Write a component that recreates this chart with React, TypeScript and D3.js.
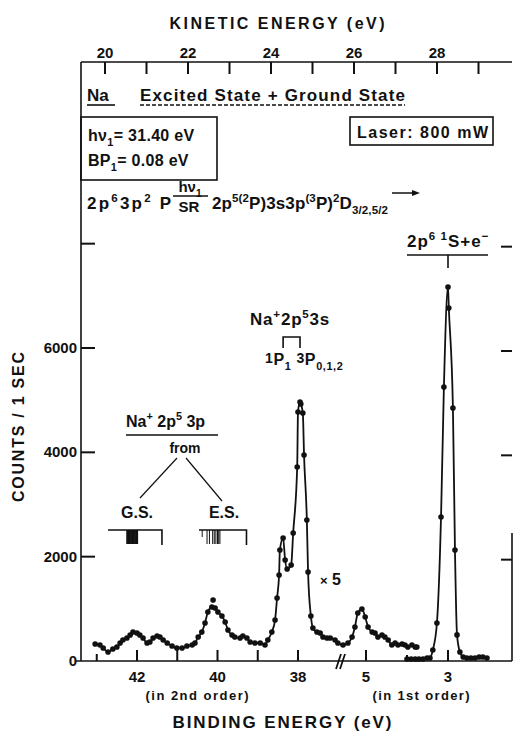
import React from 'react';
import * as d3 from 'd3';

const W = 514;
const H = 731;
const FONT = '"Liberation Sans", Arial, Helvetica, sans-serif';

// Spectrum recorded in 2nd order: binding energy (eV) and counts / 1 sec
const secondOrderEnergy = [
  43.04, 42.92, 42.84, 42.72, 42.6, 42.5, 42.42, 42.35, 42.25, 42.17, 42.1, 42.0,
  41.93, 41.85, 41.75, 41.68, 41.6, 41.5, 41.43, 41.35, 41.25, 41.13, 41.01, 40.88,
  40.76, 40.63, 40.56, 40.48, 40.39, 40.31, 40.24, 40.14, 40.06, 39.99, 39.89, 39.81,
  39.74, 39.64, 39.57, 39.44, 39.37, 39.27, 39.19, 39.07, 38.94, 38.82, 38.75, 38.65,
  38.57, 38.52, 38.47, 38.45, 38.37, 38.32, 38.27, 38.17, 38.12, 38.02, 38.0, 37.95,
  37.93, 37.88, 37.85, 37.78, 37.75, 37.68, 37.63, 37.53, 37.45, 37.38, 37.28, 37.2,
  37.08, 37.01,
];
const secondOrderCounts = [
  326, 307, 249, 173, 230, 268, 345, 403, 441, 498, 556, 537,
  498, 441, 345, 364, 441, 479, 460, 403, 345, 288, 249, 249,
  288, 307, 345, 460, 556, 728, 939, 1035, 1016, 939, 863, 748,
  594, 498, 460, 441, 479, 441, 364, 345, 345, 307, 403, 556,
  786, 1208, 1648, 2128, 2358, 1936, 1764, 1840, 2454, 3719, 4773, 4965,
  4926, 4754, 3949, 2703, 1706, 863, 633, 556, 537, 460, 441, 441,
  403, 345,
];

// 1st order, shown ×5
const firstOrderX5Energy = [
  5.56, 5.44, 5.34, 5.27, 5.2, 5.1, 5.02, 4.95, 4.85, 4.78, 4.71, 4.61,
  4.54, 4.46, 4.37, 4.29, 4.22, 4.12, 4.05, 3.98, 3.88, 3.8, 3.76,
];
const firstOrderX5Counts = [
  307, 345, 460, 652, 920, 997, 843, 652, 556, 537, 460, 498,
  460, 403, 307, 345, 307, 326, 307, 268, 307, 268, 268,
];

// 1st order, direct
const firstOrderEnergy = [
  4.0, 3.9, 3.8, 3.71, 3.61, 3.51, 3.44, 3.37, 3.27, 3.17, 3.1, 3.0,
  2.98, 2.88, 2.83, 2.78, 2.71, 2.63, 2.54, 2.44, 2.34, 2.24, 2.15, 2.05,
];
const firstOrderCounts = [
  38, 38, 38, 38, 38, 58, 58, 211, 728, 2760, 5252, 7169,
  6766, 4850, 2128, 500, 173, 77, 58, 58, 58, 77, 77, 58,
];

// Single reading lying off the 40 eV hump
const strayEnergy = [40.11];
const strayCounts = [1169];

const countLabels = [0, 2000, 4000, 6000];
const countTicks = [2000, 4000, 6000, 8000];
const kineticTicks = [20, 21, 22, 23, 24, 25, 26, 27, 28, 29];
const kineticLabels = [20, 22, 24, 26, 28];
const secondOrderTicks = [43, 42, 41, 40, 39, 38];
const secondOrderLabels = [42, 40, 38];
const firstOrderTicks = [5, 4, 3];
const firstOrderLabels = [5, 3];

// Na+ 2p5 3p final-state positions (2nd order binding energy)
const groundStateLevels = [
  42.25, 42.23, 42.21, 42.19, 42.17, 42.15, 42.13, 42.11, 42.09, 42.07, 42.05, 42.03, 42.01, 41.99,
];
const excitedStateLevels = [40.38, 40.26, 40.2, 40.12, 40.08, 40.04, 40.0, 39.97, 39.94];

const frame = { left: 81, right: 512, top: 62, bottom: 661 };

const y = d3.scaleLinear().domain([0, 6000]).range([661, 348]);
const xSecond = d3.scaleLinear().domain([42, 38]).range([137, 298]);
const xFirst = d3.scaleLinear().domain([5, 3]).range([366, 448]);
const xKinetic = d3.scaleLinear().domain([20, 28]).range([105, 437]);

type Part = [string, number?, number?];

// Runs of text with superscripts (1) and subscripts (-1)
function Rich({ parts, size }: { parts: Part[]; size: number }) {
  let prev = 0;
  return (
    <>
      {parts.map(([t, lvl = 0, scale], i) => {
        const off = lvl === 1 ? -size * 0.42 : lvl === -1 ? size * 0.3 : lvl === 0.5 ? -size * 0.15 : 0;
        const dy = off - prev;
        prev = off;
        const fs = scale ? size * scale : lvl ? size * 0.68 : size;
        return (
          <tspan key={i} dy={dy} fontSize={fs}>
            {t}
          </tspan>
        );
      })}
    </>
  );
}

export default function App() {
  const mainPts: [number, number][] = [
    ...secondOrderEnergy.map((e, i) => [xSecond(e), y(secondOrderCounts[i])] as [number, number]),
    ...firstOrderX5Energy.map((e, i) => [xFirst(e), y(firstOrderX5Counts[i])] as [number, number]),
  ];
  const peakPts: [number, number][] = firstOrderEnergy.map(
    (e, i) => [xFirst(e), y(firstOrderCounts[i])] as [number, number]
  );
  const strayPts: [number, number][] = strayEnergy.map(
    (e, i) => [xSecond(e), y(strayCounts[i])] as [number, number]
  );
  const line = d3.line().curve(d3.curveMonotoneX);

  const levelY = 530;
  const gsStart = xSecond(42.72);
  const gsEnd = xSecond(41.38);
  const esStart = xSecond(40.46);
  const esEnd = xSecond(39.28);

  const txt = { fontFamily: FONT, fontWeight: 700, fill: '#111' } as const;

  return (
    <svg
      width={W}
      height={H}
      viewBox={`0 0 ${W} ${H}`}
      style={{ position: 'absolute', left: 0, top: 0, background: '#fff' }}
    >
      <rect width={W} height={H} fill="#fff" />
      <g stroke="#111" strokeWidth={1.6} fill="none">
        {/* frame */}
        <line x1={frame.left} x2={frame.right} y1={frame.top} y2={frame.top} />
        <line x1={frame.left} x2={frame.left} y1={frame.top} y2={frame.bottom} />
        <line x1={frame.left - 6} x2={frame.right} y1={frame.bottom} y2={frame.bottom} />
        <line x1={frame.right} x2={frame.right} y1={533} y2={frame.bottom} />
        {/* kinetic energy ticks */}
        {kineticTicks.map((k) => (
          <line key={k} x1={xKinetic(k)} x2={xKinetic(k)} y1={frame.top} y2={frame.top + 12} strokeWidth={2} />
        ))}
        {/* count ticks */}
        {countTicks.map((c) => (
          <line key={'l' + c} x1={frame.left} x2={frame.left + 14} y1={y(c)} y2={y(c)} strokeWidth={2} />
        ))}
        {countTicks.map((c) => (
          <line key={'r' + c} x1={frame.right - 11} x2={frame.right} y1={y(c) + 3} y2={y(c) + 3} strokeWidth={2} />
        ))}
        {/* binding energy ticks */}
        {secondOrderTicks.map((b) => (
          <line key={'s' + b} x1={xSecond(b)} x2={xSecond(b)} y1={frame.bottom} y2={frame.bottom - (b === 43 ? 7 : 11)} strokeWidth={2} />
        ))}
        {firstOrderTicks.map((b) => (
          <line key={'f' + b} x1={xFirst(b)} x2={xFirst(b)} y1={frame.bottom} y2={frame.bottom - (b === 4 ? 6 : 11)} strokeWidth={2} />
        ))}
        {/* axis break */}
        <line x1={336} y1={669} x2={341} y2={654} strokeWidth={1.8} />
        <line x1={340} y1={669} x2={345} y2={654} strokeWidth={1.8} />
        {/* boxes */}
        <rect x={frame.left} y={117} width={217 - frame.left} height={63} />
        <rect x={350} y={117} width={143} height={28} />
      </g>

      {/* spectrum */}
      <g fill="none" stroke="#111" strokeWidth={1.8}>
        <path d={line(mainPts) ?? ''} />
        <path d={line(peakPts) ?? ''} />
      </g>
      <g fill="#111">
        {[...mainPts, ...peakPts, ...strayPts].map(([px, py], i) => (
          <circle key={i} cx={px} cy={py} r={2.8} />
        ))}
      </g>

      {/* axis titles and tick labels */}
      <text {...txt} x={277} y={29} fontSize={16} textAnchor="middle" textLength={215} lengthAdjust="spacing">
        KINETIC ENERGY (eV)
      </text>
      {kineticLabels.map((k) => (
        <text key={k} {...txt} x={xKinetic(k)} y={58} fontSize={15} textAnchor="middle">
          {k}
        </text>
      ))}
      {countLabels.map((c) => (
        <text key={c} {...txt} x={77} y={y(c) + 5} fontSize={15} textAnchor="end">
          {c}
        </text>
      ))}
      <text
        {...txt}
        fontSize={16}
        textAnchor="middle"
        transform="translate(24,427) rotate(-90)"
        textLength={150}
        lengthAdjust="spacing"
      >
        COUNTS / 1 SEC
      </text>
      {secondOrderLabels.map((b) => (
        <text key={b} {...txt} x={xSecond(b)} y={682} fontSize={15} textAnchor="middle">
          {b}
        </text>
      ))}
      {firstOrderLabels.map((b) => (
        <text key={b} {...txt} x={xFirst(b)} y={682} fontSize={15} textAnchor="middle">
          {b}
        </text>
      ))}
      <text {...txt} x={197} y={700} fontSize={13} textAnchor="middle" textLength={103} lengthAdjust="spacing">
        (in 2nd order)
      </text>
      <text {...txt} x={421} y={700} fontSize={13} textAnchor="middle" textLength={97} lengthAdjust="spacing">
        (in 1st order)
      </text>
      <text {...txt} x={282} y={728} fontSize={17} textAnchor="middle" textLength={219} lengthAdjust="spacing">
        BINDING ENERGY (eV)
      </text>

      {/* header */}
      <text {...txt} x={87} y={101} fontSize={17}>Na</text>
      <line x1={87} x2={115} y1={105} y2={105} stroke="#111" strokeWidth={1.6} />
      <text {...txt} x={140} y={101} fontSize={17} textLength={265} lengthAdjust="spacing">
        Excited State + Ground State
      </text>
      <line x1={140} x2={405} y1={105} y2={105} stroke="#111" strokeWidth={1.3} strokeDasharray="4 2" />

      <text {...txt} x={88} y={141} fontSize={16} letterSpacing={0.3}>
        <Rich parts={[['hν'], ['1', -1], ['= 31.40 eV']]} size={16} />
      </text>
      <text {...txt} x={88} y={166} fontSize={16} letterSpacing={0.3}>
        <Rich parts={[['BP'], ['1', -1], ['=  0.08 eV']]} size={16} />
      </text>
      <text {...txt} x={357} y={138} fontSize={16} textLength={131} lengthAdjust="spacing">
        Laser: 800 mW
      </text>

      {/* excitation scheme */}
      <text {...txt} x={87} y={209} fontSize={17} letterSpacing={2.2}>
        <Rich parts={[['2p'], ['6', 1], ['3p'], ['2', 1], [' P']]} size={17} />
      </text>
      <text {...txt} x={190} y={192} fontSize={15} textAnchor="middle">
        <Rich parts={[['hν'], ['1', -1]]} size={15} />
      </text>
      <line x1={173} x2={208} y1={196} y2={196} stroke="#111" strokeWidth={1.6} />
      <text {...txt} x={189} y={212} fontSize={15} textAnchor="middle">
        SR
      </text>
      <text {...txt} x={212} y={209} fontSize={17} letterSpacing={0.1}>
        <Rich
          parts={[['2p'], ['5(2', 1], ['P)'], ['3s3p'], ['(3', 1], ['P)'], ['2', 1], ['D'], ['3/2,5/2', -1]]}
          size={17}
        />
      </text>
      <line x1={392} x2={416} y1={193} y2={193} stroke="#111" strokeWidth={1.5} />
      <path d="M 420 193 L 412 190 L 412 196 Z" fill="#111" />

      <text {...txt} x={407} y={247} fontSize={17} letterSpacing={1}>
        <Rich parts={[['2p'], ['6 1', 1], ['S+e'], ['−', 1]]} size={17} />
      </text>
      <line x1={407} x2={488} y1={255} y2={255} stroke="#111" strokeWidth={1.6} />
      <line x1={xFirst(3)} x2={xFirst(3)} y1={255} y2={268} stroke="#111" strokeWidth={1.6} />

      {/* Na+ 2p5 3s multiplet */}
      <text {...txt} x={250} y={325} fontSize={17} letterSpacing={0.8}>
        <Rich parts={[['Na'], ['+', 1], ['2p'], ['5', 1], ['3s']]} size={17} />
      </text>
      <path
        d={`M ${xSecond(38.37)} 348 V 337 H ${xSecond(37.95)} V 348`}
        fill="none"
        stroke="#111"
        strokeWidth={1.6}
      />
      <text {...txt} x={265} y={365} fontSize={16} letterSpacing={0.6}>
        <Rich
          parts={[['1', 0.5, 0.88], ['P'], ['1', -1], [' '], ['3', 0.5, 0.88], ['P'], ['0,1,2', -1]]}
          size={16}
        />
      </text>

      <text {...txt} x={320} y={585} fontSize={16}>
        <tspan fontSize={13}>×</tspan> 5
      </text>

      {/* Na+ 2p5 3p final states */}
      <text {...txt} x={126} y={427} fontSize={16}>
        <Rich parts={[['Na'], ['+', 1], [' 2p'], ['5', 1], [' 3p']]} size={16} />
      </text>
      <line x1={126} x2={218} y1={435} y2={435} stroke="#111" strokeWidth={1.6} />
      <text {...txt} x={185} y={453} fontSize={14} textAnchor="middle">
        from
      </text>
      <line x1={177} y1={458} x2={140} y2={498} stroke="#111" strokeWidth={1.2} />
      <line x1={186} y1={458} x2={222} y2={501} stroke="#111" strokeWidth={1.2} />
      <text {...txt} x={137} y={518} fontSize={16} textAnchor="middle">
        G.S.
      </text>
      <text {...txt} x={224} y={518} fontSize={16} textAnchor="middle">
        E.S.
      </text>
      <g stroke="#111" fill="none">
        <path d={`M ${gsStart} ${levelY} H ${gsEnd} V ${levelY + 15}`} strokeWidth={1.6} />
        <path d={`M ${esStart} ${levelY} H ${esEnd} V ${levelY + 15}`} strokeWidth={1.6} />
        {groundStateLevels.map((e) => (
          <line key={'g' + e} x1={xSecond(e)} x2={xSecond(e)} y1={levelY} y2={levelY + 14} strokeWidth={1.4} />
        ))}
        {excitedStateLevels.map((e, i) => (
          <line
            key={'e' + e}
            x1={xSecond(e)}
            x2={xSecond(e)}
            y1={levelY}
            y2={levelY + (i === 0 ? 7 : 14)}
            strokeWidth={1}
          />
        ))}
      </g>
    </svg>
  );
}
